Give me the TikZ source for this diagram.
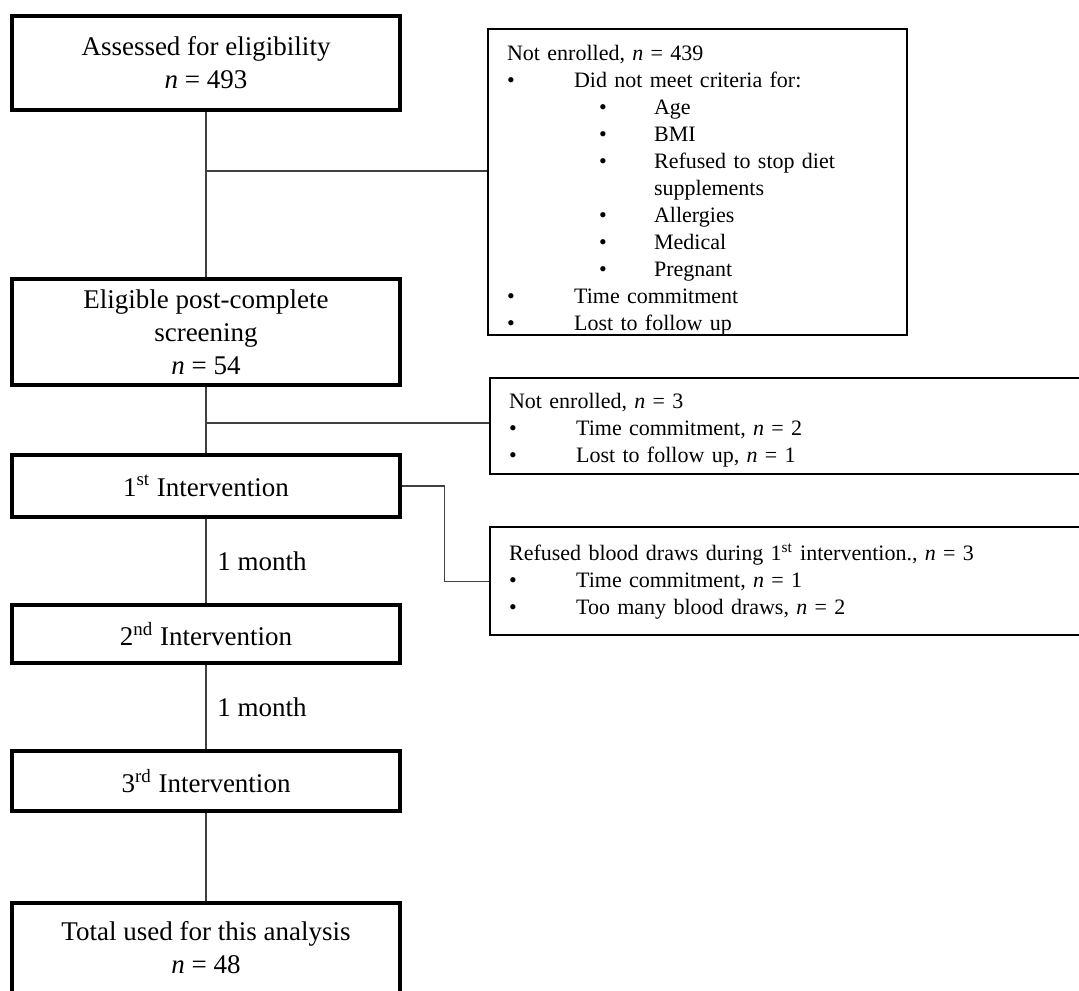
\documentclass[tikz,border=0pt]{standalone}
\usepackage{fontspec}
\setmainfont{Liberation Serif}
\usepackage{tikz}
\usetikzlibrary{positioning}
\newcommand{\itemone}{\makebox[33.5pt][l]{\textbullet}}
\newcommand{\itemtwo}{\hspace*{46pt}\makebox[27.5pt][l]{\textbullet}}
\tikzset{
  mainbox/.style={
    rectangle, draw, line width=1.7pt, minimum width=194pt,
    align=center, inner sep=0pt,
    font=\fontsize{13.5}{16.5}\selectfont
  },
  sidebox/.style={
    rectangle, draw, line width=1.1pt, anchor=north west,
    align=left, inner xsep=9.5pt, inner ysep=0pt,
    font=\fontsize{11}{13.5}\selectfont
  },
  link/.style={line width=0.6pt, draw=black!75},
  gaplabel/.style={right, xshift=2pt, font=\fontsize{13.5}{16.5}\selectfont},
}
\begin{document}
\begin{tikzpicture}[x=0.5pt, y=-0.5pt]
  \path[use as bounding box, fill=white] (0,0) rectangle (1079,990);
  % main flow
  \node[mainbox, minimum height=47pt] (assess) at (206,63) {Assessed for eligibility\\\textit{n} = 493};
  \node[mainbox, minimum height=53pt] (elig) at (206,332) {Eligible post-complete\\screening\\\textit{n} = 54};
  \node[mainbox, minimum height=31pt] (int1) at (206,486) {1\textsuperscript{st} Intervention};
  \node[mainbox, minimum height=29pt] (int2) at (206,634) {2\textsuperscript{nd} Intervention};
  \node[mainbox, minimum height=30pt] (int3) at (206,781) {3\textsuperscript{rd} Intervention};
  \node[mainbox, minimum height=45pt] (total) at (206,948) {Total used for this analysis\\\textit{n} = 48};
  % exclusions
  \node[sidebox, text width=190.5pt, minimum height=152.5pt] (excl1) at (487,28) {\rule{0pt}{15.5pt}Not enrolled, \textit{n} = 439\\
    \itemone Did not meet criteria for:\\
    \itemtwo Age\\
    \itemtwo BMI\\
    \itemtwo Refused to stop diet\\
    \hspace*{73.5pt}supplements\\
    \itemtwo Allergies\\
    \itemtwo Medical\\
    \itemtwo Pregnant\\
    \itemone Time commitment\\
    \itemone Lost to follow up};
  \node[sidebox, text width=279pt, minimum height=48pt] (excl2) at (489,377) {\rule{0pt}{12pt}Not enrolled, \textit{n} = 3\\
    \itemone Time commitment, \textit{n} = 2\\
    \itemone Lost to follow up, \textit{n} = 1};
  \node[sidebox, text width=279pt, minimum height=54pt] (refused) at (489,526) {Refused blood draws during 1\textsuperscript{st} intervention., \textit{n} = 3\\
    \itemone Time commitment, \textit{n} = 1\\
    \itemone Too many blood draws, \textit{n} = 2};
  % connectors
  \coordinate (j1) at (206,171);
  \coordinate (j2) at (206,423);
  \draw[link] (assess.south) -- (elig.north);
  \draw[link] (j1) -- (j1 -| excl1.west);
  \draw[link] (elig.south) -- (int1.north);
  \draw[link] (j2) -- (j2 -| excl2.west);
  \draw[link] (int1.east) -- ++(43,0) |- (refused.west);
  \draw[link] (int1.south) -- node[gaplabel] (gap1) {1 month} (int2.north);
  \draw[link] (int2.south) -- node[gaplabel] (gap2) {1 month} (int3.north);
  \draw[link] (int3.south) -- (total.north);
\end{tikzpicture}
\end{document}
